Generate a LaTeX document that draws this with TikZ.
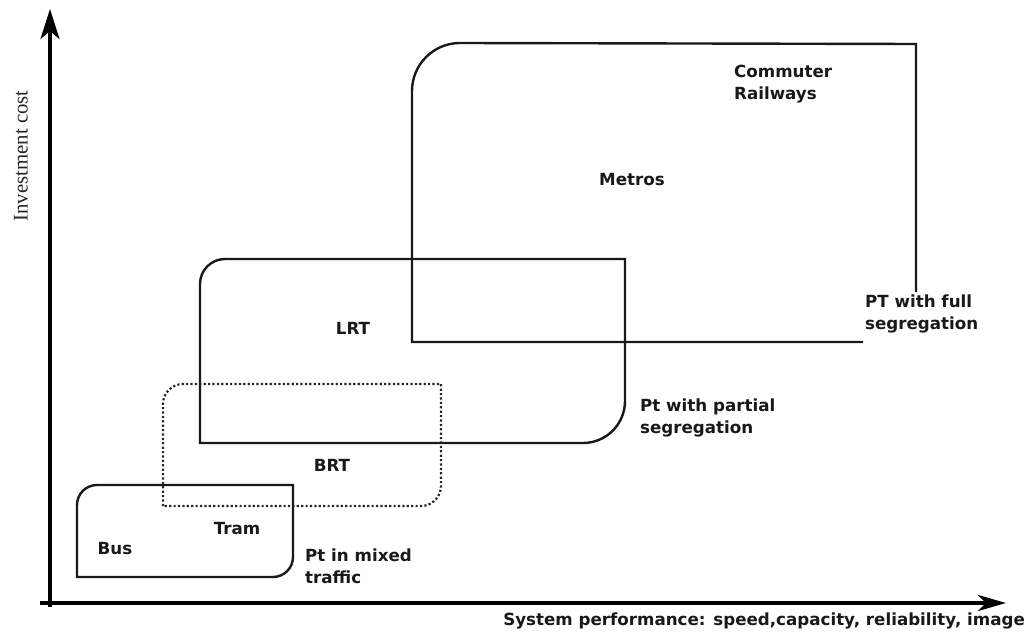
\documentclass[tikz,border=0pt]{standalone}
\usepackage{fontspec}
\newfontfamily\labfont{DejaVu Sans}
\newfontfamily\serfont{Liberation Serif}
\usetikzlibrary{arrows.meta}
\tikzset{
  lab/.style={font=\labfont\bfseries\fontsize{16.7}{22}\selectfont, inner sep=0pt, align=left, text=black!90},
  boxline/.style={line width=2.4pt, black!90},
  dotbox/.style={line width=2.2pt, black!85, dash pattern=on 2.2pt off 2.2pt},
  axis/.style={line width=3.4pt, black}
}
\begin{document}
\begin{tikzpicture}[x=1pt,y=1pt]
\useasboundingbox (0,0) rectangle (1028,633);
% axes
\coordinate (ybase) at (50,26);
\coordinate (ytip) at (50,624);
\coordinate (xs) at (40,30);
\coordinate (xtip) at (1006,30);
\draw[axis,-{Stealth[length=30pt,width=19pt,inset=8pt]}] (ybase) -- (ytip);
\draw[axis,-{Stealth[length=28pt,width=16pt,inset=8pt]}] (xs) -- (xtip);
% Bus box
\draw[boxline] (77,56) -- (77,128) arc[start angle=180,end angle=90,radius=20] -- (293,148) -- (293,76) arc[start angle=0,end angle=-90,radius=20] -- cycle;
% BRT box
\draw[dotbox] (163,127) -- (163,229) arc[start angle=180,end angle=90,radius=20] -- (441,249) -- (441,147) arc[start angle=0,end angle=-90,radius=20] -- cycle;
% LRT box
\draw[boxline] (200,190) -- (200,349) arc[start angle=180,end angle=90,radius=25] -- (625,374) -- (625,232) arc[start angle=0,end angle=-90,radius=42] -- cycle;
% Metro box
\draw[boxline] (863,291) -- (412,291) -- (412,542) arc[start angle=180,end angle=90,radius=48] -- (916,589) -- (916,341);
% labels
\node[lab] (bus) at (115,84) {Bus};
\node[lab] (tram) at (237,104) {Tram};
\node[lab,anchor=west] (mixed) at (305,67) {Pt in mixed\\traffic};
\node[lab] (brt) at (332,168) {BRT};
\node[lab] (lrt) at (353,305) {LRT};
\node[lab,anchor=west] (partial) at (640,215) {Pt with partial\\segregation};
\node[lab] (metros) at (632,453) {Metros};
\node[lab,anchor=west] (commuter) at (734,549) {Commuter\\Railways};
\node[lab,anchor=west] (full) at (865,319) {PT with full\\segregation};
\node[font=\serfont\fontsize{20.8}{22}\selectfont, rotate=90, text=black!85, inner sep=0pt] (ylab) at (21,477) {Investment cost};
\node[lab,anchor=east] (xlab) at (1025,12) {System performance: speed,capacity, reliability, image};
\end{tikzpicture}
\end{document}
